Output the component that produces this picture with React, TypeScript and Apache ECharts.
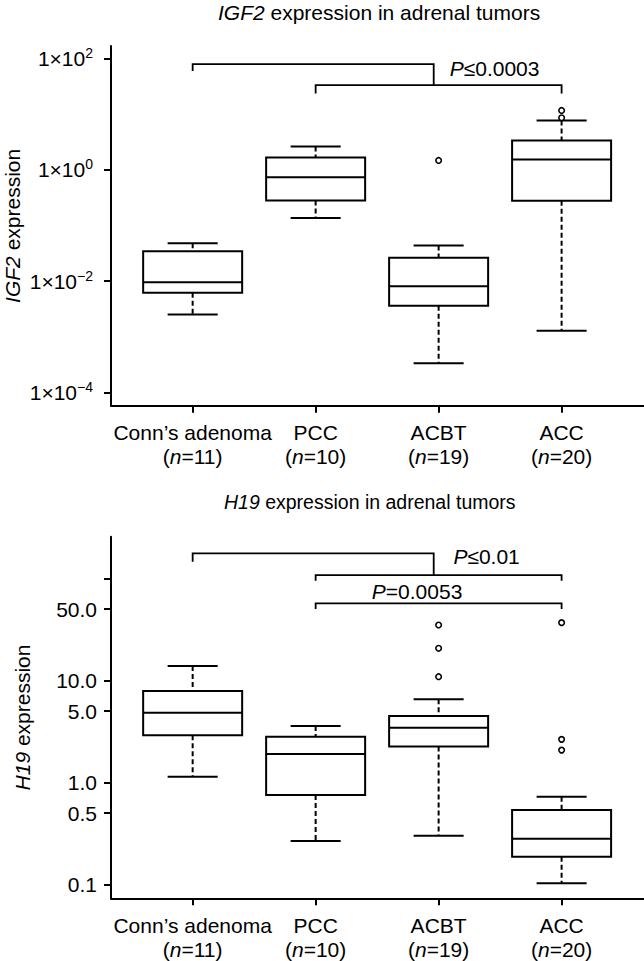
import React, { useEffect, useRef } from 'react';
import * as echarts from 'echarts';

const FONT = '"Liberation Sans", Arial, Helvetica, sans-serif';

const categories = ['Conn’s adenoma', 'PCC', 'ACBT', 'ACC'];
const sampleSizes = [11, 10, 19, 20];

// [min, Q1, median, Q3, max]
const igf2Boxes = [
  [0.00253, 0.0062, 0.0096, 0.0346, 0.0482],
  [0.137, 0.281, 0.736, 1.66, 2.62],
  [0.000339, 0.00363, 0.00816, 0.0264, 0.0438],
  [0.0013, 0.278, 1.53, 3.36, 7.67],
];
const igf2Outliers = [
  [2, 1.47],
  [3, 8.57],
  [3, 11.6],
];

const h19Boxes = [
  [1.14, 2.9, 4.83, 7.89, 13.9],
  [0.267, 0.754, 1.9, 2.81, 3.58],
  [0.301, 2.26, 3.44, 4.49, 6.54],
  [0.103, 0.187, 0.281, 0.538, 0.726],
];
const h19Outliers = [
  [2, 10.9],
  [2, 20.7],
  [2, 35.0],
  [3, 2.08],
  [3, 2.65],
  [3, 36.9],
];

const igf2TickExponents = [-4, -2, 0, 2];
const h19TickValues = [0.1, 0.5, 1, 5, 10, 50, 100];
const h19LabelValues = [0.1, 0.5, 1, 5, 10, 50];

// significance brackets: polyline points [category position, value]
const igf2Brackets = [
  [[0, 59.5], [0, 78.5], [1.96, 78.5], [1.96, 33]],
  [[1, 23.4], [1, 33], [3, 33], [3, 23.4]],
];
const igf2PLabels = [[2.455, 65.8, 'P', '≤0.0003']];

const h19Brackets = [
  [[0, 146], [0, 176.6], [1.96, 176.6], [1.96, 108]],
  [[1, 95], [1, 108], [3, 108], [3, 95]],
  [[1, 50.2], [1, 57.1], [3, 57.1], [3, 50.2]],
];
const h19PLabels = [
  [2.39, 166, 'P', '≤0.01'],
  [1.825, 74.1, 'P', '=0.0053'],
];

const BOX_W = 0.805;
const CAP_W = 0.407;
const LW = 2;

function boxRender(params: any, api: any) {
  const x = api.value(0);
  const lo = api.coord([x, api.value(1)]);
  const q1 = api.coord([x, api.value(2)]);
  const md = api.coord([x, api.value(3)]);
  const q3 = api.coord([x, api.value(4)]);
  const hi = api.coord([x, api.value(5)]);
  const unit = api.size([1, 0])[0];
  const bw = (unit * BOX_W) / 2;
  const cw = (unit * CAP_W) / 2;
  const cx = lo[0];
  const solid = { stroke: '#000', lineWidth: LW, fill: 'none' };
  const dashed = { stroke: '#000', lineWidth: LW, lineDash: [5, 3], fill: 'none' };
  return {
    type: 'group',
    children: [
      { type: 'line', shape: { x1: cx, y1: hi[1], x2: cx, y2: q3[1] }, style: dashed },
      { type: 'line', shape: { x1: cx, y1: q1[1], x2: cx, y2: lo[1] }, style: dashed },
      { type: 'line', shape: { x1: cx - cw, y1: hi[1], x2: cx + cw, y2: hi[1] }, style: solid },
      { type: 'line', shape: { x1: cx - cw, y1: lo[1], x2: cx + cw, y2: lo[1] }, style: solid },
      {
        type: 'rect',
        shape: { x: cx - bw, y: q3[1], width: 2 * bw, height: q1[1] - q3[1] },
        style: solid,
      },
      { type: 'line', shape: { x1: cx - bw, y1: md[1], x2: cx + bw, y2: md[1] }, style: solid },
    ],
  };
}

function makeBracketRender(brackets: number[][][]) {
  return (params: any, api: any) => {
    const pts = brackets[params.dataIndex].map((p) => api.coord([p[0], Math.log10(p[1])]));
    return {
      type: 'polyline',
      shape: { points: pts },
      style: { stroke: '#000', lineWidth: 1.8, fill: 'none' },
    };
  };
}

function makeLabelRender(labels: any[][]) {
  return (params: any, api: any) => {
    const l = labels[params.dataIndex];
    const p = api.coord([l[0], Math.log10(l[1])]);
    return {
      type: 'text',
      style: {
        x: p[0],
        y: p[1],
        text: `{i|${l[2]}}${l[3]}`,
        align: 'center',
        verticalAlign: 'middle',
        fontSize: 21,
        fontFamily: FONT,
        fill: '#000',
        rich: {
          i: { fontStyle: 'italic', fontSize: 21, fontFamily: FONT, fill: '#000' },
        },
      },
    };
  };
}

const baseText = { fontSize: 21, fontFamily: FONT, color: '#000' };
const axisLineStyle = { color: '#000', width: 2 };

function xAxisFor(gridIndex: number) {
  return {
    type: 'value',
    gridIndex,
    min: -0.664,
    max: 3.67,
    splitLine: { show: false },
    axisLine: { show: true, onZero: false, lineStyle: axisLineStyle },
    axisTick: { show: true, length: 7, lineStyle: axisLineStyle, customValues: [0, 1, 2, 3] },
    axisLabel: {
      customValues: [0, 1, 2, 3],
      margin: 15,
      ...baseText,
      lineHeight: 24,
      formatter: (v: number) => {
        const i = Math.round(v);
        return `${categories[i]}\n({n|n}=${sampleSizes[i]})`;
      },
      rich: {
        n: { ...baseText, fontStyle: 'italic', lineHeight: 24 },
      },
    },
  };
}

export default function App() {
  const ref = useRef<HTMLDivElement>(null);
  useEffect(() => {
    document.body.style.margin = '0';
    if (!ref.current) return;
    const chart = echarts.init(ref.current, null, { renderer: 'svg' });
    const bottomTitleText = { ...baseText, fontSize: 19.5 };
    const option: any = {
      animation: false,
      backgroundColor: '#fff',
      title: [
        {
          text: '{i|IGF2} expression in adrenal tumors',
          left: 218,
          top: 2,
          padding: 0,
          textStyle: {
            ...baseText,
            fontWeight: 'normal',
            rich: { i: { ...baseText, fontStyle: 'italic' } },
          },
        },
        {
          text: '{i|H19} expression in adrenal tumors',
          left: 224,
          top: 492,
          padding: 0,
          textStyle: {
            ...bottomTitleText,
            fontWeight: 'normal',
            rich: { i: { ...bottomTitleText, fontStyle: 'italic' } },
          },
        },
      ],
      grid: [
        { left: 111, right: 0, top: 46, height: 359.7, outerBoundsMode: 'none', containLabel: false },
        { left: 111, right: 0, top: 536.7, height: 361.6, outerBoundsMode: 'none', containLabel: false },
      ],
      xAxis: [xAxisFor(0), xAxisFor(1)],
      yAxis: [
        {
          type: 'value',
          gridIndex: 0,
          min: -4.233,
          max: 2.221,
          splitLine: { show: false },
          axisLine: { show: true, onZero: false, lineStyle: axisLineStyle },
          axisTick: { show: true, length: 7, lineStyle: axisLineStyle, customValues: igf2TickExponents },
          axisLabel: {
            customValues: igf2TickExponents,
            margin: 18,
            ...baseText,
            formatter: (v: number) => {
              const e = Math.round(v);
              return `1×10{sup|${e < 0 ? '−' + -e : e}}`;
            },
            rich: {
              sup: { ...baseText, fontSize: 14, verticalAlign: 'top', lineHeight: 25 },
            },
          },
          name: '{i|IGF2} expression',
          nameLocation: 'middle',
          nameGap: 88,
          nameMoveOverlap: false,
          nameTextStyle: {
            ...baseText,
            rich: { i: { ...baseText, fontStyle: 'italic' } },
          },
        },
        {
          type: 'value',
          gridIndex: 1,
          min: -1.135,
          max: 2.41,
          splitLine: { show: false },
          axisLine: { show: true, onZero: false, lineStyle: axisLineStyle },
          axisTick: {
            show: true,
            length: 7,
            lineStyle: axisLineStyle,
            customValues: h19TickValues.map((v) => Math.log10(v)),
          },
          axisLabel: {
            customValues: h19LabelValues.map((v) => Math.log10(v)),
            margin: 14,
            ...baseText,
            formatter: (v: number) => Math.pow(10, v).toFixed(1),
          },
          name: '{i|H19} expression',
          nameLocation: 'middle',
          nameGap: 78,
          nameMoveOverlap: false,
          nameTextStyle: {
            ...baseText,
            rich: { i: { ...baseText, fontStyle: 'italic' } },
          },
        },
      ],
      series: [
        {
          type: 'custom',
          xAxisIndex: 0,
          yAxisIndex: 0,
          renderItem: boxRender,
          encode: { x: 0, y: [1, 2, 3, 4, 5] },
          data: igf2Boxes.map((b, i) => [i, ...b.map((v) => Math.log10(v))]),
        },
        {
          type: 'scatter',
          xAxisIndex: 0,
          yAxisIndex: 0,
          symbol: 'circle',
          symbolSize: 5.5,
          itemStyle: { color: '#fff', borderColor: '#000', borderWidth: 1.6, opacity: 1 },
          data: igf2Outliers.map(([i, v]) => [i, Math.log10(v)]),
        },
        {
          type: 'custom',
          xAxisIndex: 0,
          yAxisIndex: 0,
          renderItem: makeBracketRender(igf2Brackets),
          data: igf2Brackets.map((b) => [b[0][0], Math.log10(b[0][1])]),
        },
        {
          type: 'custom',
          xAxisIndex: 0,
          yAxisIndex: 0,
          renderItem: makeLabelRender(igf2PLabels),
          data: igf2PLabels.map((l) => [l[0], Math.log10(l[1] as number)]),
        },
        {
          type: 'custom',
          xAxisIndex: 1,
          yAxisIndex: 1,
          renderItem: boxRender,
          encode: { x: 0, y: [1, 2, 3, 4, 5] },
          data: h19Boxes.map((b, i) => [i, ...b.map((v) => Math.log10(v))]),
        },
        {
          type: 'scatter',
          xAxisIndex: 1,
          yAxisIndex: 1,
          symbol: 'circle',
          symbolSize: 5.5,
          itemStyle: { color: '#fff', borderColor: '#000', borderWidth: 1.6, opacity: 1 },
          data: h19Outliers.map(([i, v]) => [i, Math.log10(v)]),
        },
        {
          type: 'custom',
          xAxisIndex: 1,
          yAxisIndex: 1,
          renderItem: makeBracketRender(h19Brackets),
          data: h19Brackets.map((b) => [b[0][0], Math.log10(b[0][1])]),
        },
        {
          type: 'custom',
          xAxisIndex: 1,
          yAxisIndex: 1,
          renderItem: makeLabelRender(h19PLabels),
          data: h19PLabels.map((l) => [l[0], Math.log10(l[1] as number)]),
        },
      ],
    };
    chart.setOption(option);
    return () => chart.dispose();
  }, []);
  return <div ref={ref} style={{ width: 644, height: 961 }} />;
}
